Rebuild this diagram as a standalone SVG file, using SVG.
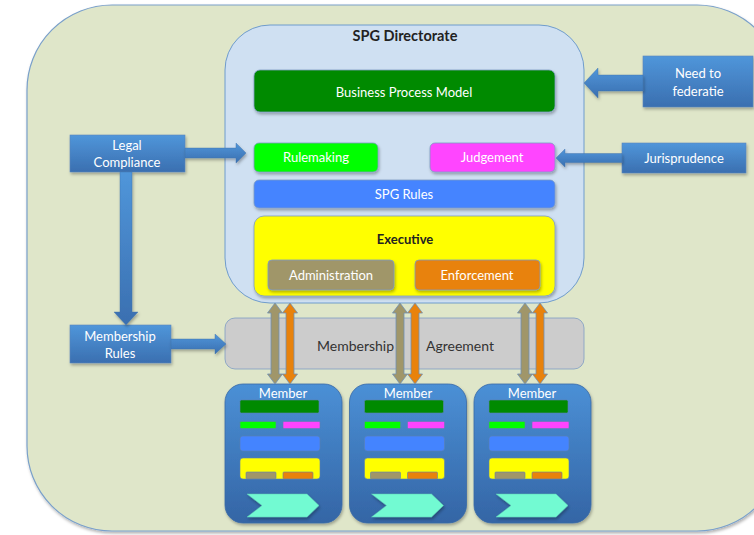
<svg xmlns="http://www.w3.org/2000/svg" xmlns:xlink="http://www.w3.org/1999/xlink" width="754" height="535" viewBox="0 0 754 535">
  <defs>
    <style>
      text { font-family: Lato, "Open Sans", "Liberation Sans", sans-serif; font-size: 13px; }
      .w { fill: #ffffff; text-anchor: middle; }
      .dark { fill: #222222; text-anchor: middle; }
      .box { stroke: #7d9cc4; stroke-width: 0.8; filter: url(#shadow); }
      .side { fill: url(#blueGrad); stroke: #5a86bd; stroke-width: 0.6; filter: url(#shadow); }
      .conn { fill: url(#blueGrad); stroke: #3d6ea8; stroke-width: 0.4; filter: url(#shadow); }
      .mini { stroke: #5d82b0; stroke-width: 0.6; }
    </style>
    <filter id="shadow" x="-10%" y="-10%" width="130%" height="140%">
      <feDropShadow dx="1" dy="2" stdDeviation="1.4" flood-color="#000" flood-opacity="0.3"/>
    </filter>
    <linearGradient id="blueGrad" x1="0" y1="0" x2="0" y2="1">
      <stop offset="0" stop-color="#5096da"/>
      <stop offset="1" stop-color="#3a6fb0"/>
    </linearGradient>
    <linearGradient id="memberGrad" x1="0" y1="0" x2="0" y2="1">
      <stop offset="0" stop-color="#4b90d6"/>
      <stop offset="1" stop-color="#3465a5"/>
    </linearGradient>
    <!-- two-headed vertical arrow, centred on x = 0 -->
    <path id="dbl" d="M0,303 L7.5,313 L4,313 L4,374 L7.5,374 L0,384 L-7.5,374 L-4,374 L-4,313 L-7.5,313 Z" stroke="#6f8fb5" stroke-width="0.8"/>
    <!-- miniature member layout, origin at the member's left edge -->
    <g id="memberBody">
      <rect x="0" y="384" width="117" height="139" rx="18" fill="url(#memberGrad)" stroke="#3a6aa6" stroke-width="0.8" filter="url(#shadow)"/>
      <rect class="mini" x="15" y="400" width="79" height="13" rx="1.5" fill="#008a00"/>
      <rect class="mini" x="15" y="421.5" width="36" height="7" rx="1" fill="#00ff00"/>
      <rect class="mini" x="58" y="421.5" width="37" height="7" rx="1" fill="#ff44ff"/>
      <rect class="mini" x="15" y="436" width="80" height="15" rx="3" fill="#4484ff"/>
      <rect class="mini" x="15" y="458" width="80" height="21" rx="3" fill="#ffff00"/>
      <rect class="mini" x="21" y="472" width="30" height="7" rx="1" fill="#a09669"/>
      <rect class="mini" x="58" y="472" width="30" height="7" rx="1" fill="#e8820c"/>
      <polygon points="22,494 82,494 94,505.5 82,517 22,517 37,505.5" fill="#72fad2" stroke="#5fc9b0" stroke-width="0.5" filter="url(#shadow)"/>
    </g>
  </defs>

  <!-- federation background -->
  <g id="background">
    <rect x="27" y="5" width="755" height="526" rx="85" fill="#dfe6c9" stroke="#7aa0ca" stroke-width="1.2" filter="url(#shadow)"/>
  </g>

  <!-- directorate container and its parts -->
  <g id="directorate">
    <rect x="225" y="25" width="359" height="278" rx="45" fill="#cfe0f2" stroke="#6f9ccc" stroke-width="1"/>
    <text x="405" y="41" class="dark" style="font-weight:bold;font-size:14.5px">SPG Directorate</text>
  </g>
  <g id="business-process-model">
    <rect class="box" x="254" y="70" width="301" height="42" rx="6" fill="#008a00"/>
    <text x="404" y="97" class="w">Business Process Model</text>
  </g>
  <g id="rulemaking">
    <rect class="box" x="254" y="143" width="124" height="29" rx="5" fill="#00ff00"/>
    <text x="316" y="162" class="w">Rulemaking</text>
  </g>
  <g id="judgement">
    <rect class="box" x="430" y="143" width="125" height="29" rx="5" fill="#ff44ff"/>
    <text x="492" y="162" class="w">Judgement</text>
  </g>
  <g id="spg-rules">
    <rect class="box" x="254" y="180" width="301" height="28" rx="5" fill="#4484ff"/>
    <text x="404" y="199" class="w">SPG Rules</text>
  </g>
  <g id="executive">
    <rect class="box" x="254" y="216" width="301" height="80" rx="10" fill="#ffff00"/>
    <text x="405" y="244" class="dark" style="font-weight:bold">Executive</text>
  </g>
  <g id="administration">
    <rect class="box" x="268" y="260" width="126" height="30" rx="4" fill="#a09669"/>
    <text x="331" y="280" class="w">Administration</text>
  </g>
  <g id="enforcement">
    <rect class="box" x="415" y="260" width="125" height="30" rx="4" fill="#e8820c"/>
    <text x="477" y="280" class="w">Enforcement</text>
  </g>

  <!-- external inputs -->
  <g id="need-to-federatie">
    <rect class="side" x="643" y="56" width="110" height="51"/>
    <text x="698" y="78" class="w">Need to</text>
    <text x="698" y="96" class="w">federatie</text>
  </g>
  <g id="jurisprudence">
    <rect class="side" x="622" y="143" width="124" height="30"/>
    <text x="684" y="163" class="w">Jurisprudence</text>
  </g>
  <g id="legal-compliance">
    <rect class="side" x="70" y="135" width="115" height="37"/>
    <text x="127" y="150" class="w">Legal</text>
    <text x="127" y="167" class="w">Compliance</text>
  </g>
  <g id="membership-rules">
    <rect class="side" x="70" y="325" width="101" height="38"/>
    <text x="120" y="341" class="w">Membership</text>
    <text x="120" y="358" class="w">Rules</text>
  </g>

  <!-- membership agreement band -->
  <g id="membership-agreement">
    <rect x="225" y="318" width="359" height="51" rx="10" fill="#cccccc" stroke="#7d9cc4" stroke-width="0.8"/>
    <text x="317" y="351" style="font-size:14px;fill:#333333">Membership</text>
    <text x="426" y="351" style="font-size:14px;fill:#333333">Agreement</text>
  </g>

  <!-- members -->
  <g id="member-1">
    <use xlink:href="#memberBody" transform="translate(225,0)"/>
    <text x="283" y="398" class="w">Member</text>
  </g>
  <g id="member-2">
    <use xlink:href="#memberBody" transform="translate(349.5,0)"/>
    <text x="408" y="398" class="w">Member</text>
  </g>
  <g id="member-3">
    <use xlink:href="#memberBody" transform="translate(474,0)"/>
    <text x="532" y="398" class="w">Member</text>
  </g>

  <!-- connectors -->
  <g id="connectors">
    <polygon class="conn" points="584,83 598,68 598,75 643,75 643,91 598,91 598,98"/>
    <polygon class="conn" points="556,158 565,149 565,153.5 622,153.5 622,162.5 565,162.5 565,167"/>
    <polygon class="conn" points="185,148 236,148 236,143 246,153 236,163 236,158 185,158"/>
    <polygon class="conn" points="120,172 132,172 132,312 138,312 126,325 114,312 120,312"/>
    <polygon class="conn" points="171,339 215,339 215,334 226,344 215,354 215,349 171,349"/>
    <use xlink:href="#dbl" transform="translate(275,0)" fill="#a09669"/>
    <use xlink:href="#dbl" transform="translate(290,0)" fill="#e8820c"/>
    <use xlink:href="#dbl" transform="translate(400,0)" fill="#a09669"/>
    <use xlink:href="#dbl" transform="translate(415,0)" fill="#e8820c"/>
    <use xlink:href="#dbl" transform="translate(525,0)" fill="#a09669"/>
    <use xlink:href="#dbl" transform="translate(540,0)" fill="#e8820c"/>
  </g>
</svg>
